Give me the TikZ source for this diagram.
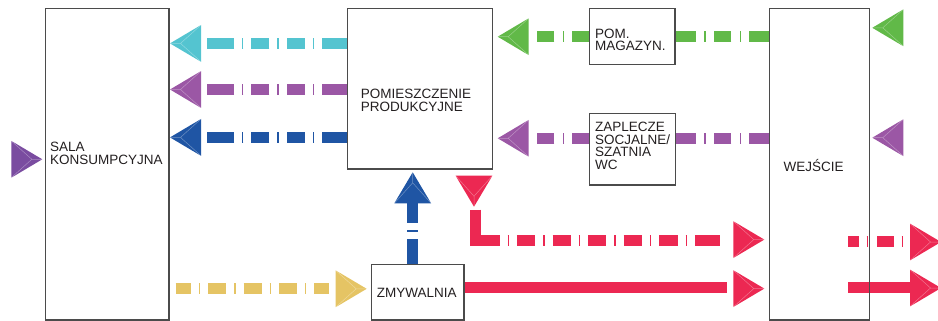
\documentclass[tikz,border=0pt]{standalone}
\usepackage{fontspec}
\setmainfont{Liberation Sans}
\usetikzlibrary{calc}

\definecolor{cyanflow}{RGB}{84,196,208}
\definecolor{purpleflow}{RGB}{155,87,165}
\definecolor{violetflow}{RGB}{122,76,160}
\definecolor{blueflow}{RGB}{31,85,164}
\definecolor{greenflow}{RGB}{97,185,72}
\definecolor{redflow}{RGB}{236,40,82}
\definecolor{yellowflow}{RGB}{229,196,100}
\definecolor{wallgray}{RGB}{75,75,75}
\definecolor{inkgray}{RGB}{35,31,32}

\tikzset{
  room/.style={draw=wallgray, line width=1.2pt, inner sep=0pt, outer sep=0pt,
    anchor=north west},
  lbl/.style={inner sep=0pt, align=left, text=inkgray,
    font=\fontsize{13.5}{12.7}\selectfont},
  shaft/.style={draw=#1, line width=11pt, line cap=butt, line join=miter},
  pics/flowhead/.style={code={
    \fill[#1] (0,0) -- (-31,-18.4) -- (-31,18.4) -- cycle;
    \draw[white, opacity=0.35, line width=0.5pt]
      (-10.5,0) -- (0,0) (-10.5,0) -- (-31,-18.4) (-10.5,0) -- (-31,18.4);
  }},
}

\begin{document}
\begin{tikzpicture}[x=1pt, y=-1pt]
\useasboundingbox (0,0) rectangle (938,321);
\clip (0,0) rectangle (938,321);

% rooms (outlines only, drawn last so walls sit on top of the flows)
\path
  node[room, minimum width=123.3pt, minimum height=311.3pt] (sala) at (45.7,8.7) {}
  node[room, minimum width=145.4pt, minimum height=160.3pt] (prod) at (347.3,8.7) {}
  node[room, minimum width=85.7pt,  minimum height=55.6pt]  (mag)  at (589.3,8.7) {}
  node[room, minimum width=86pt,    minimum height=71.7pt]  (zapl) at (589.3,113.3) {}
  node[room, minimum width=100pt,   minimum height=311.3pt] (wej)  at (769.3,8.7) {}
  node[room, minimum width=92.3pt,  minimum height=55.7pt]  (zmyw) at (371.7,264.3) {};

% free ends of the flow lines
\coordinate (cyanEnd)   at (207.3,43.5);
\coordinate (purpEnd)   at (207.3,89.6);
\coordinate (blueEnd)   at (207.3,137.5);
\coordinate (greenEnd)  at (536.7,36.7);
\coordinate (socEnd)    at (536.7,138.3);
\coordinate (upEnd)     at (412.7,202.5);
\coordinate (redStart)  at (475,209.5);
\coordinate (redTurn)   at (475,240.4);
\coordinate (redEnd)    at (720,240.4);
\coordinate (redOutA)   at (848.3,241.5);
\coordinate (redOutB)   at (910,241.5);
\coordinate (solidEnd)  at (727.3,287.8);
\coordinate (solidOutA) at (848.3,287.2);
\coordinate (solidOutB) at (911,287.2);
\coordinate (yelStart)  at (175.7,288.5);
\coordinate (yelEnd)    at (329.3,288.5);

% production room -> consumption hall
\draw[shaft=cyanflow, dash pattern=on 25.4pt off 7.9pt on 1.5pt off 7.9pt on 18pt off 7.9pt on 1.5pt off 7.9pt on 18pt off 7.9pt on 1.5pt off 7.9pt on 60pt]
  (prod.west |- cyanEnd) -- (cyanEnd);
\draw[shaft=purpleflow, dash pattern=on 25.4pt off 7.9pt on 1.5pt off 7.9pt on 18pt off 7.9pt on 1.5pt off 7.9pt on 18pt off 7.9pt on 1.5pt off 7.9pt on 60pt]
  (prod.west |- purpEnd) -- (purpEnd);
\draw[shaft=blueflow, dash pattern=on 25.4pt off 7.9pt on 1.5pt off 7.9pt on 18pt off 7.9pt on 1.5pt off 7.9pt on 18pt off 7.9pt on 1.5pt off 7.9pt on 60pt]
  (prod.west |- blueEnd) -- (blueEnd);
\pic[rotate=180] at (170,43.4)  {flowhead=cyanflow};
\pic[rotate=180] at (170,89.5)  {flowhead=purpleflow};
\pic[rotate=180] at (170,137.4) {flowhead=blueflow};

% guests entering the hall
\pic at (42.3,159.3) {flowhead=violetflow};

% entrance -> storeroom -> production
\draw[shaft=greenflow, dash pattern=on 20pt off 8.2pt on 1.5pt off 8.2pt on 17.7pt off 8.2pt on 1.5pt off 8.2pt on 60pt]
  (wej.west |- greenEnd) -- (mag.east |- greenEnd);
\draw[shaft=greenflow, dash pattern=on 17pt off 8.2pt on 1.5pt off 8.2pt on 40pt]
  (mag.west |- greenEnd) -- (greenEnd);
\pic[rotate=180] at (497.7,36.7) {flowhead=greenflow};
\pic[rotate=180] at (872.3,27.8) {flowhead=greenflow};

% entrance -> staff rooms -> production
\draw[shaft=purpleflow, dash pattern=on 20pt off 8.2pt on 1.5pt off 8.2pt on 17.7pt off 8.2pt on 1.5pt off 8.2pt on 60pt]
  (wej.west |- socEnd) -- (zapl.east |- socEnd);
\draw[shaft=purpleflow, dash pattern=on 17pt off 8.2pt on 1.5pt off 8.2pt on 40pt]
  (zapl.west |- socEnd) -- (socEnd);
\pic[rotate=180] at (497.7,138.3) {flowhead=purpleflow};
\pic[rotate=180] at (872.3,137.7) {flowhead=purpleflow};

% washing room -> production
\draw[shaft=blueflow, dash pattern=on 25pt off 7.5pt on 1.8pt off 7.5pt on 40pt]
  (upEnd |- zmyw.north) -- (upEnd);
\pic[rotate=90] at (412.7,172.3) {flowhead=blueflow};

% production -> entrance (dashed)
\pic[rotate=-90] at (474,206.7) {flowhead=redflow};
\draw[shaft=redflow, dash pattern=on 55.5pt off 7.9pt on 1.5pt off 7.9pt on 18.3pt off 7.9pt on 1.5pt off 7.9pt on 18.3pt off 7.9pt on 1.5pt off 7.9pt on 18.3pt off 7.9pt on 1.5pt off 7.9pt on 18.3pt off 7.9pt on 1.5pt off 7.9pt on 18.3pt off 7.9pt on 1.5pt off 7.9pt on 60pt]
  (redStart) -- (redTurn) -- (redEnd);
\pic at (764.3,239.6) {flowhead=redflow};
\draw[shaft=redflow, dash pattern=on 11pt off 7.4pt on 1.5pt off 8.8pt on 17pt off 7.6pt on 1.5pt off 30pt]
  (redOutA) -- (redOutB);
\pic at (941,242) {flowhead=redflow};

% washing room -> entrance (solid)
\draw[shaft=redflow] (zmyw.east |- solidEnd) -- (solidEnd);
\pic at (764.3,288.6) {flowhead=redflow};
\draw[shaft=redflow] (solidOutA) -- (solidOutB);
\pic at (941,288) {flowhead=redflow};

% consumption hall -> washing room
\draw[shaft=yellowflow, dash pattern=on 15.3pt off 7.9pt on 1.5pt off 7.9pt on 18pt off 7.9pt on 1.5pt off 7.9pt on 18pt off 7.9pt on 1.5pt off 7.9pt on 18pt off 7.9pt on 1.5pt off 7.9pt on 40pt]
  (yelStart) -- (yelEnd);
\pic at (366.7,288.8) {flowhead=yellowflow};

% walls on top
\foreach \r in {sala,prod,mag,zapl,wej,zmyw}
  \draw[draw=wallgray, line width=1.2pt] (\r.north west) rectangle (\r.south east);

% room names
\node[lbl, anchor=north west] (salaTxt) at (50,141.9) {SALA\\KONSUMPCYJNA};
\node[lbl, anchor=north west] (prodTxt) at (360.7,89.3) {POMIESZCZENIE\\PRODUKCYJNE};
\node[lbl, anchor=north west] (magTxt)  at (595,28.5) {POM.\\MAGAZYN.};
\node[lbl, anchor=north west] (zaplTxt) at (595,121.7) {ZAPLECZE\\SOCJALNE/\\SZATNIA\\WC};
\node[lbl, anchor=base west]  (wejTxt)  at (783.3,171.7) {WEJŚCIE};
\node[lbl, anchor=base west]  (zmywTxt) at (376.7,297.3) {ZMYWALNIA};
\end{tikzpicture}
\end{document}
